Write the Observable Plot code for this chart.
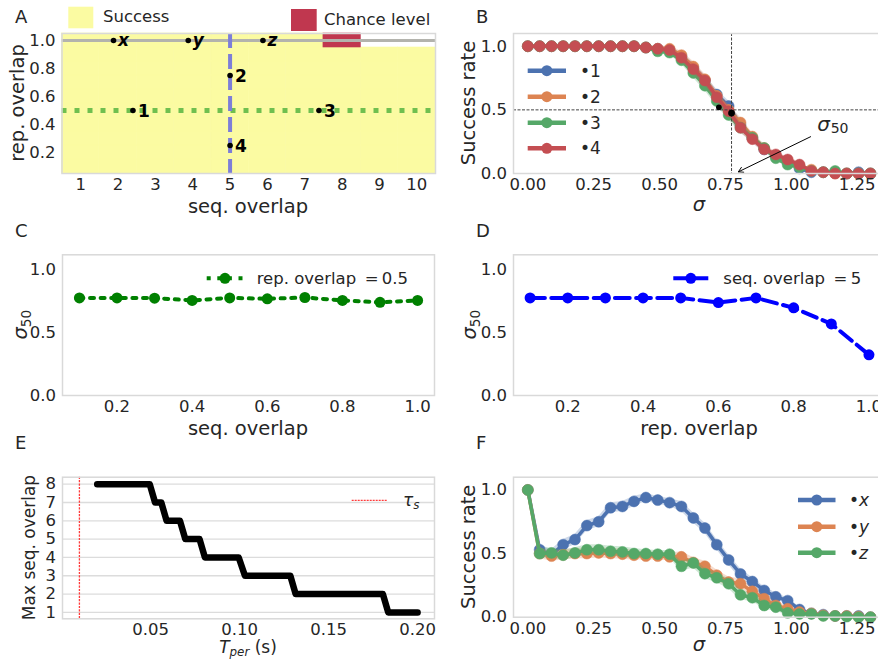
<!DOCTYPE html>
<html><head><meta charset="utf-8">
<script src="https://cdn.jsdelivr.net/npm/d3@7"></script>
<script src="https://cdn.jsdelivr.net/npm/@observablehq/plot@0.6"></script>
<style>
html,body{margin:0;padding:0;background:#fff;}
#fig{position:relative;width:878px;height:662px;overflow:hidden;font-family:"DejaVu Sans",sans-serif;color:#262626;background:#fff;}
#fig > svg{position:absolute;}
</style></head><body><div id="fig"></div>
<script>
// ---------------- data ----------------
// Panel A
const seqOverlapGrid = [1, 2, 3, 4, 5, 6, 7, 8, 9, 10];
const repOverlapGrid = [0.1, 0.2, 0.3, 0.4, 0.5, 0.6, 0.7, 0.8, 0.9, 1.0];
const topRowOutcome = ["success","success","success","success","success","success","success","chance","none","none"];
const pointNames = ["1", "2", "3", "4"];
const pointSeq = [2.4, 5.0, 7.38, 5.0];
const pointRep = [0.5, 0.75, 0.5, 0.25];
const sampleNames = ["x", "y", "z"];
const sampleSeq = [1.88, 3.88, 5.88];
const sampleRep = [1.0, 1.0, 1.0];
const sliceRep = [0.5];
const sliceSeq = [5];
const sampleRowRep = [1.0];
const ticksA_x = [1, 2, 3, 4, 5, 6, 7, 8, 9, 10];
const ticksA_y = [0.2, 0.4, 0.6, 0.8, 1.0];

// Panels B & F: noise level sigma
const sigma = [0.000,0.045,0.090,0.134,0.179,0.224,0.269,0.314,0.359,0.403,0.448,0.493,0.538,0.583,0.628,0.672,0.717,0.762,0.807,0.852,0.897,0.941,0.986,1.031,1.076,1.121,1.166,1.210,1.255,1.300];
const ticksSigma = [0, 0.25, 0.5, 0.75, 1.0, 1.25];
const ticksRate = [0, 0.5, 1.0];
const seriesBNames = ["1", "2", "3", "4"];
const successB1 = [1,1,1,1,1,1,1,1,1,1,0.99,0.98,0.97,0.92,0.83,0.73,0.62,0.53,0.38,0.28,0.19,0.14,0.09,0.04,0.01,0.01,0.01,0,0.01,0];
const successB2 = [1,1,1,1,1,1,1,1,1,1,0.99,0.98,0.98,0.93,0.84,0.74,0.61,0.50,0.40,0.29,0.20,0.14,0.10,0.06,0.03,0.01,0,0,0,0];
const successB3 = [1,1,1,1,1,1,1,1,1,1,0.99,0.96,0.95,0.89,0.79,0.69,0.57,0.46,0.36,0.28,0.20,0.12,0.07,0.05,0.02,0.01,0.02,0,0,0];
const successB4 = [1,1,1,1,1,1,1,1,1,1,0.99,0.98,0.97,0.91,0.82,0.73,0.60,0.49,0.36,0.27,0.19,0.15,0.11,0.07,0.02,0.01,0,0,0,0];
const bandB = [0,0,0,0,0,0,0,0,0,0,0.01,0.02,0.02,0.03,0.04,0.04,0.04,0.04,0.04,0.03,0.03,0.02,0.02,0.02,0.01,0.01,0,0,0,0];
const sigma50Line = [0.773];
const halfLine = [0.5];
const sigma50Sigma = [0.725, 0.773];
const sigma50Rate = [0.52, 0.475];
const sigma50Radius = [4.2, 6];
const annotSigma = [1.098];
const annotRate = [0.383];
const arrowFrom = [1.073, 0.289];
const arrowTo = [0.799, 0.013];

const seriesFNames = ["x", "y", "z"];
const successFx = [1.0,0.53,0.49,0.57,0.61,0.72,0.75,0.86,0.87,0.91,0.94,0.92,0.90,0.87,0.78,0.70,0.57,0.45,0.34,0.28,0.21,0.16,0.13,0.06,0.03,0.02,0.01,0.01,0.01,0];
const successFy = [1.0,0.50,0.48,0.49,0.50,0.50,0.505,0.50,0.495,0.487,0.48,0.48,0.474,0.474,0.43,0.40,0.33,0.276,0.263,0.203,0.145,0.092,0.066,0.04,0.03,0.015,0.01,0.01,0.005,0];
const successFz = [1.0,0.50,0.505,0.487,0.505,0.53,0.53,0.518,0.513,0.50,0.50,0.495,0.495,0.40,0.426,0.342,0.31,0.263,0.176,0.153,0.092,0.079,0.034,0.026,0.026,0.01,0.01,0.005,0,0];
const bandF = [0,0.04,0.04,0.04,0.04,0.04,0.04,0.04,0.04,0.04,0.03,0.03,0.03,0.04,0.04,0.04,0.04,0.04,0.04,0.03,0.03,0.03,0.02,0.02,0.01,0.01,0.01,0,0,0];

// Panel C
const seqOverlapC = [0.1, 0.2, 0.3, 0.4, 0.5, 0.6, 0.7, 0.8, 0.9, 1.0];
const sigma50C = [0.777, 0.777, 0.775, 0.757, 0.777, 0.770, 0.780, 0.757, 0.742, 0.757];
// Panel D
const repOverlapD = [0.1, 0.2, 0.3, 0.4, 0.5, 0.6, 0.7, 0.8, 0.9, 1.0];
const sigma50D = [0.777, 0.777, 0.777, 0.777, 0.777, 0.740, 0.777, 0.698, 0.570, 0.324];
const ticksOverlap = [0.2, 0.4, 0.6, 0.8, 1.0];
const ticksSigma50 = [0, 0.5, 1.0];
// Panel E
const Tper = [0.020,0.0495,0.0525,0.0560,0.0590,0.0665,0.0695,0.0775,0.0805,0.0995,0.1030,0.1285,0.1315,0.1805,0.1835,0.200];
const maxSeqOverlap = [8,8,7,7,6,6,5,5,4,4,3,3,2,2,1,1];
const tauS = [0.01];
const ticksE_x = [0.05, 0.10, 0.15, 0.20];
const ticksE_y = [1, 2, 3, 4, 5, 6, 7, 8];

// ---------------- style ----------------
const FONT = "DejaVu Sans";
const INK = "#262626";
const FRAME = "#d9d9d9";
const TICK_FS = 16.5;
const LABEL_FS = 19.5;
const C_BLUE = "#4C72B0", C_ORANGE = "#DD8452", C_GREEN = "#55A868", C_RED = "#C44E52";
const YELLOW = "#fbfba2", CHANCE = "#c0374f";

const fig = document.getElementById("fig");

function makePlot({left, top, width, height, mt, mb, ml, mr, x, y, marks}) {
  const p = Plot.plot({
    width, height, marginTop: mt, marginBottom: mb, marginLeft: ml, marginRight: mr,
    x, y,
    style: {fontFamily: FONT, fontSize: TICK_FS + "px", color: INK, background: "transparent", overflow: "visible"},
    marks
  });
  p.style.position = "absolute";
  p.style.left = left + "px";
  p.style.top = top + "px";
  fig.append(p);
  return p;
}
function axes(xt, xf, yt, yf, xPad = 5) {
  return [
    Plot.axisX({ticks: xt, tickFormat: xf, tickSize: 0, tickPadding: xPad, label: null, fontSize: TICK_FS}),
    Plot.axisY({ticks: yt, tickFormat: yf, tickSize: 0, tickPadding: 6.5, label: null, fontSize: TICK_FS})
  ];
}
const f1 = d3.format(".1f"), f2 = d3.format(".2f"), f0 = d3.format("d");

// ---------------- Panel A ----------------
const cellsA = [];
repOverlapGrid.forEach(r => seqOverlapGrid.forEach((s, i) => cellsA.push({s, r, outcome: r === 1.0 ? topRowOutcome[i] : "success"})));
const pointsA = pointNames.map((n, i) => ({n, s: pointSeq[i], r: pointRep[i]}));
const samplesA = sampleNames.map((n, i) => ({n, s: sampleSeq[i], r: sampleRep[i]}));
const cellRect = (data, color) => Plot.rect(data, {x1: d => d.s - 0.5, x2: d => d.s + 0.5, y1: d => d.r - 0.05, y2: d => d.r + 0.05, fill: color, stroke: color, strokeWidth: 0.6});
makePlot({left: 0, top: 0, width: 440, height: 215, mt: 33, mb: 42, ml: 61.5, mr: 5,
  x: {domain: [0.5, 10.5]}, y: {domain: [0.05, 1.05]},
  marks: [
    cellRect(cellsA.filter(d => d.outcome === "success"), YELLOW),
    cellRect(cellsA.filter(d => d.outcome === "chance"), CHANCE),
    Plot.ruleY(sampleRowRep, {stroke: "#b3b3ad", strokeWidth: 3}),
    Plot.ruleY(sliceRep, {stroke: "#6fbf4f", strokeWidth: 5, strokeDasharray: "5,8"}),
    Plot.ruleX(sliceSeq, {stroke: "#7d7ed8", strokeWidth: 4, strokeDasharray: "15,6"}),
    Plot.dot([...pointsA, ...samplesA], {x: "s", y: "r", r: 2.8, fill: "black"}),
    Plot.text(pointsA, {x: "s", y: "r", text: "n", dx: 5, dy: 1, textAnchor: "start", fontWeight: "bold", fontSize: 17, fill: "black"}),
    Plot.text(samplesA, {x: "s", y: "r", text: "n", dx: 4.5, dy: 0, textAnchor: "start", fontWeight: "bold", fontStyle: "italic", fontSize: 17, fill: "black"}),
    ...axes(ticksA_x, f0, ticksA_y, f1),
    Plot.frame({stroke: FRAME, strokeWidth: 1.5})
  ]});

// ---------------- Panel B ----------------
function curveMarks(names, valueArrays, colors, band) {
  const marks = [];
  names.forEach((name, k) => {
    const rows = sigma.map((s, i) => ({s, v: valueArrays[k][i], hw: band[i]}));
    marks.push(Plot.areaY(rows, {x: "s", y1: d => d.v - d.hw, y2: d => d.v + d.hw, fill: colors[k], fillOpacity: 0.28}));
    marks.push(Plot.line(rows, {x: "s", y: "v", stroke: colors[k], strokeWidth: 3.5}));
    marks.push(Plot.dot(rows, {x: "s", y: "v", r: 5.5, fill: colors[k], stroke: colors[k], strokeWidth: 0.5}));
  });
  return marks;
}
const crossB = sigma50Sigma.map((s, i) => ({s, v: sigma50Rate[i], r: sigma50Radius[i]}));
makePlot({left: 440, top: 0, width: 451, height: 215, mt: 33, mb: 42, ml: 73, mr: 5,
  x: {domain: [-0.0543, 1.361]}, y: {domain: [0, 1.1]},
  marks: [
    ...curveMarks(seriesBNames, [successB1, successB2, successB3, successB4], [C_BLUE, C_ORANGE, C_GREEN, C_RED], bandB),
    Plot.ruleX(sigma50Line, {stroke: "#444", strokeWidth: 1, strokeDasharray: "3,1.5"}),
    Plot.ruleY(halfLine, {stroke: "#444", strokeWidth: 1, strokeDasharray: "3,1.5"}),
    Plot.dot(crossB, {x: "s", y: "v", r: "r", fill: "black"}),
    Plot.arrow([{x1: arrowFrom[0], y1: arrowFrom[1], x2: arrowTo[0], y2: arrowTo[1]}], {x1: "x1", y1: "y1", x2: "x2", y2: "y2", stroke: "black", strokeWidth: 1, headLength: 8}),
    Plot.text(annotSigma.map((s, i) => ({s, v: annotRate[i]})), {x: "s", y: "v", text: () => "σ", fontStyle: "italic", fontSize: 20, textAnchor: "start", fill: INK}),
    Plot.text(annotSigma.map((s, i) => ({s, v: annotRate[i]})), {x: "s", y: "v", text: () => "50", dx: 13.5, dy: 4, fontSize: 14, textAnchor: "start", fill: INK}),
    ...axes(ticksSigma, f2, ticksRate, f1),
    Plot.frame({stroke: FRAME, strokeWidth: 1.5})
  ]});

// ---------------- Panel C ----------------
makePlot({left: 0, top: 220, width: 440, height: 220, mt: 34.3, mb: 45, ml: 62, mr: 6,
  x: {domain: [0.055, 1.045]}, y: {domain: [0, 1.12]},
  marks: [
    Plot.line(seqOverlapC.map((s, i) => ({s, v: sigma50C[i]})), {x: "s", y: "v", stroke: "#008000", strokeWidth: 4, strokeDasharray: "4,6.6"}),
    Plot.dot(seqOverlapC.map((s, i) => ({s, v: sigma50C[i]})), {x: "s", y: "v", r: 5.5, fill: "#008000"}),
    ...axes(ticksOverlap, f1, ticksSigma50, f1),
    Plot.frame({stroke: FRAME, strokeWidth: 1.5})
  ]});

// ---------------- Panel D ----------------
makePlot({left: 440, top: 220, width: 451, height: 220, mt: 34.3, mb: 45, ml: 73, mr: 5,
  x: {domain: [0.0559, 1.0466]}, y: {domain: [0, 1.12]},
  marks: [
    Plot.line(repOverlapD.map((r, i) => ({r, v: sigma50D[i]})), {x: "r", y: "v", stroke: "#0000ff", strokeWidth: 4, strokeDasharray: "14.8,6.4"}),
    Plot.dot(repOverlapD.map((r, i) => ({r, v: sigma50D[i]})), {x: "r", y: "v", r: 5.5, fill: "#0000ff"}),
    ...axes(ticksOverlap, f1, ticksSigma50, f1),
    Plot.frame({stroke: FRAME, strokeWidth: 1.5})
  ]});

// ---------------- Panel E ----------------
makePlot({left: 0, top: 440, width: 440, height: 222, mt: 36.7, mb: 43.7, ml: 62, mr: 6,
  x: {domain: [0.0005, 0.2095]}, y: {domain: [0.65, 8.38]},
  marks: [
    Plot.gridY(ticksE_y, {stroke: "#dcdcdc", strokeOpacity: 1, strokeWidth: 1.3}),
    Plot.ruleX(tauS, {stroke: "#ff3b3b", strokeWidth: 1.3, strokeDasharray: "2.2,1.2"}),
    Plot.line(Tper.map((t, i) => ({t, m: maxSeqOverlap[i]})), {x: "t", y: "m", stroke: "black", strokeWidth: 6.5, strokeLinecap: "round", strokeLinejoin: "round"}),
    ...axes(ticksE_x, f2, ticksE_y, f0, 4),
    Plot.frame({stroke: FRAME, strokeWidth: 1.5})
  ]});

// ---------------- Panel F ----------------
makePlot({left: 440, top: 440, width: 451, height: 222, mt: 36.7, mb: 45.3, ml: 73, mr: 5,
  x: {domain: [-0.0543, 1.361]}, y: {domain: [0, 1.1]},
  marks: [
    ...curveMarks(seriesFNames, [successFx, successFy, successFz], [C_BLUE, C_ORANGE, C_GREEN], bandF),
    ...axes(ticksSigma, f2, ticksRate, f1),
    Plot.frame({stroke: FRAME, strokeWidth: 1.5})
  ]});

// ---------------- overlay: panel letters, axis titles, legends ----------------
const ov = d3.select(fig).append("svg").attr("width", 878).attr("height", 662)
  .style("left", "0px").style("top", "0px").style("font-family", FONT).style("pointer-events", "none");

function label(x, y, parts, {size = LABEL_FS, anchor = "middle", rotate = 0, fill = INK, subScale = 0.7, subShift = 0.22} = {}) {
  const t = ov.append("text").attr("transform", `translate(${x},${y}) rotate(${rotate})`)
    .attr("text-anchor", anchor).attr("font-size", size).attr("fill", fill);
  let shift = 0;
  for (const p of (typeof parts === "string" ? [{t: parts}] : parts)) {
    const s = t.append("tspan").text(p.t);
    if (p.italic) s.attr("font-style", "italic");
    if (p.bold) s.attr("font-weight", "bold");
    const target = p.sub ? size * subShift : 0;
    if (target !== shift) { s.attr("dy", target - shift); shift = target; }
    if (p.sub) s.attr("font-size", size * subScale);
  }
  return t;
}

// panel letters
[["A", 15, 23], ["B", 476, 23], ["C", 15, 237], ["D", 476, 237], ["E", 15, 449], ["F", 476, 449]]
  .forEach(([l, x, y]) => label(x, y, l, {size: 18, anchor: "start"}));

// axis titles
label(248, 212.7, "seq. overlap");
label(23.5, 103, "rep. overlap", {rotate: -90});
label(699, 211, [{t: "σ", italic: true}]);
label(475, 103, "Success rate", {rotate: -90});
label(248, 434.7, "seq. overlap");
label(26.5, 324.7, [{t: "σ", italic: true}, {t: "50", sub: true}], {rotate: -90});
label(699, 434.7, "rep. overlap");
label(476, 324.7, [{t: "σ", italic: true}, {t: "50", sub: true}], {rotate: -90});
label(248, 653, [{t: "T", italic: true}, {t: "per", italic: true, sub: true}, {t: " (s)"}], {size: 17, subShift: 0.18});
label(35, 547.5, "Max seq. overlap", {rotate: -90, size: 17});
label(699, 650.5, [{t: "σ", italic: true}]);
label(475, 546.8, "Success rate", {rotate: -90});

// legend of panel A
ov.append("rect").attr("x", 68.3).attr("y", 6.7).attr("width", 25).attr("height", 21.6).attr("fill", YELLOW);
label(103, 21.7, "Success", {size: 16.5, anchor: "start"});
ov.append("rect").attr("x", 291).attr("y", 9).attr("width", 25.7).attr("height", 22).attr("fill", CHANCE);
label(324, 25, "Chance level", {size: 16.5, anchor: "start"});

// legend B
function swatch(x1, x2, y, color, extra = {}) {
  ov.append("line").attr("x1", x1).attr("x2", x2).attr("y1", y).attr("y2", y)
    .attr("stroke", color).attr("stroke-width", extra.width || 4.5).attr("stroke-dasharray", extra.dash || null)
    .attr("opacity", extra.opacity || 1);
  if (!extra.noDot) ov.append("circle").attr("cx", (x1 + x2) / 2).attr("cy", y).attr("r", extra.r || 5.5).attr("fill", color);
}
[C_BLUE, C_ORANGE, C_GREEN, C_RED].forEach((c, i) => {
  const y = [70.7, 96.7, 122.7, 148.3][i];
  swatch(527.7, 566, y, c);
  label(580, y + 6, "•" + seriesBNames[i], {size: 17, anchor: "start"});
});
// legend F
[C_BLUE, C_ORANGE, C_GREEN].forEach((c, i) => {
  const y = [500, 526.7, 552.7][i];
  swatch(798, 835.5, y, c);
  label(849, y + 6, [{t: "•"}, {t: seriesFNames[i], italic: true}], {size: 17, anchor: "start"});
});
// legend C
swatch(206.7, 243.3, 278.3, "#008000", {width: 4, dash: "4,6.6"});
label(256.7, 284.3, "rep. overlap\u2009 =\u20090.5", {size: 16.5, anchor: "start"});
// legend D
swatch(673.3, 708.3, 278.3, "#0000ff", {width: 4, dash: "14.8,6.4"});
label(723.3, 284.3, "seq. overlap\u2009 =\u20095", {size: 16.5, anchor: "start"});
// legend E
swatch(351.7, 386.7, 500.3, "#ff3b3b", {width: 1.2, dash: "2,1", noDot: true});
label(403, 505.5, [{t: "τ", italic: true}, {t: "s", italic: true, sub: true}], {size: 17, anchor: "start"});
</script></body></html>
